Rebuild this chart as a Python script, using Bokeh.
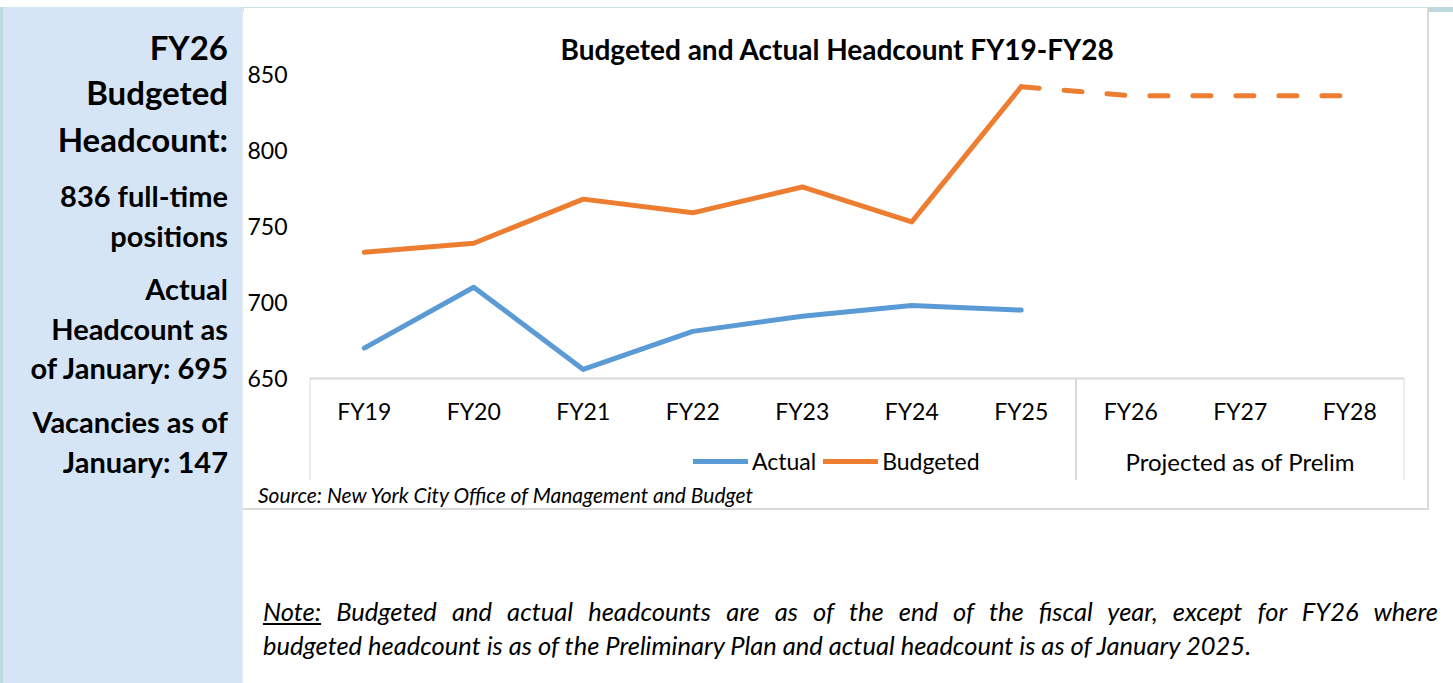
from bokeh.plotting import figure
from bokeh.models import FactorRange, Range1d, FixedTicker, Legend, LegendItem, Div
from bokeh.layouts import row, column
from bokeh.core.properties import value
from bokeh.embed import file_html
from bokeh.resources import INLINE

# ---------------- data ----------------
years = ["FY19", "FY20", "FY21", "FY22", "FY23", "FY24", "FY25", "FY26", "FY27", "FY28"]
actual = [670, 710, 656, 681, 691, 698, 695]                       # FY19-FY25
budgeted = [733, 739, 768, 759, 776, 753, 842, 836, 836, 836]      # FY19-FY28
n_hist = 7                                                         # FY19..FY25 are history
y_ticks = [650, 700, 750, 800, 850]
group_labels = ["", "Projected as of Prelim"]
legend_labels = ["Actual", "Budgeted"]
title_text = "Budgeted and Actual Headcount FY19-FY28"
source_text = "Source: New York City Office of Management and Budget"
panel_lines = [
    ("FY26", 60, 33), ("Budgeted", 105, 33), ("Headcount:", 152, 33),
    ("836 full-time", 207, 29), ("positions", 247, 29),
    ("Actual", 300, 29), ("Headcount as", 340, 29), ("of January: 695", 379, 29),
    ("Vacancies as of", 433, 29), ("January: 147", 473, 29),
]
note_line1 = "<u>Note:</u> Budgeted and actual headcounts are as of the end of the fiscal year, except for FY26 where"
note_line2 = "budgeted headcount is as of the Preliminary Plan and actual headcount is as of January 2025."

# ---------------- style / geometry ----------------
FONT = "Lato"
BLUE = "#5B9BD5"
ORANGE = "#ED7D31"
GREY = "#D9D9D9"
PANEL = "#D6E5F5"
TEAL = "#BDD9DE"

PAGE_W, PAGE_H = 1453, 683
STRIP_H = 7
PANEL_W = 243
FIG_W = 1184
PLOT_PX = 304       # 650 -> 850
BOX_PX = 102        # depth of category box under the axis
BORDER_LEFT = 66
BORDER_RIGHT = 23
BORDER_TOP = 67
BORDER_BOTTOM = 2
FIG_H = BORDER_TOP + PLOT_PX + BOX_PX + BORDER_BOTTOM
SRC_H = 28
NOTE_W = PAGE_W - PANEL_W
NOTE_H = PAGE_H - STRIP_H - FIG_H - SRC_H
TITLE_W_EST = 550   # rendered width of the title text

px_per_unit = PLOT_PX / (y_ticks[-1] - y_ticks[0])
y_bottom = y_ticks[0] - BOX_PX / px_per_unit
fy_label_y = y_ticks[0] - 32 / px_per_unit
group_label_y = y_ticks[0] - 83 / px_per_unit


def line_top(baseline, size, lh, origin):
    return baseline - origin - ((lh - 1.2 * size) / 2 + 0.987 * size)


# ---------------- top strip ----------------
strip = Div(text=f'<div style="width:{PAGE_W}px;height:{STRIP_H}px;box-sizing:border-box;'
                 f'border-top:2px solid white;background:{TEAL};"></div>',
            width=PAGE_W, height=STRIP_H, margin=0)

# ---------------- left panel ----------------
panel_h = PAGE_H - STRIP_H
parts = []
for txt, base, size in panel_lines:
    lh = round(size * 1.2)
    top = line_top(base, size, lh, STRIP_H)
    parts.append(
        f'<div style="position:absolute;right:14px;top:{top:.1f}px;font-size:{size}px;'
        f'line-height:{lh}px;white-space:nowrap;">{txt}</div>'
    )
panel_html = (
    f'<div style="position:relative;width:{PANEL_W}px;height:{panel_h}px;box-sizing:border-box;'
    f'border-left:3px solid {TEAL};border-right:1px solid #E4ECF2;background:{PANEL};'
    f'font-family:Lato;font-weight:bold;color:#000;">' + "".join(parts) + "</div>"
)
panel = Div(text=panel_html, width=PANEL_W, height=panel_h, margin=0)

# ---------------- chart ----------------
p = figure(
    width=FIG_W, height=FIG_H,
    x_range=FactorRange(factors=years),
    y_range=Range1d(y_bottom, y_ticks[-1]),
    x_axis_location=None,
    output_backend="svg", toolbar_location=None,
    min_border_left=BORDER_LEFT, min_border_right=BORDER_RIGHT,
    min_border_top=BORDER_TOP, min_border_bottom=BORDER_BOTTOM,
)
p.outline_line_color = None
p.xgrid.grid_line_color = None
p.ygrid.grid_line_color = None
p.background_fill_color = "white"
p.border_fill_color = "white"

p.title.text = title_text
p.title.align = "left"
p.title.offset = FIG_W / 2 - BORDER_LEFT - TITLE_W_EST / 2
p.title.text_font = FONT
p.title.text_font_size = "28px"
p.title.text_font_style = "bold"
p.title.text_color = "#000000"
p.title.standoff = 17

ax = p.yaxis[0]
ax.ticker = FixedTicker(ticks=y_ticks)
ax.axis_line_color = None
ax.major_tick_line_color = None
ax.minor_tick_line_color = None
ax.major_tick_in = 0
ax.major_tick_out = 0
ax.major_label_standoff = 22
ax.major_label_text_font = FONT
ax.major_label_text_font_size = "23px"
ax.major_label_text_color = "#000000"

# category box (axis line + separators)
left_edge = (years[0], -0.5)
split_edge = (years[n_hist - 1], 0.5)
right_edge = (years[-1], 0.5)
p.segment(x0=[left_edge], y0=[y_ticks[0]], x1=[right_edge], y1=[y_ticks[0]],
          line_color=GREY, line_width=2)
p.segment(x0=[left_edge, split_edge, right_edge], y0=[y_ticks[0]] * 3,
          x1=[left_edge, split_edge, right_edge], y1=[y_bottom] * 3,
          line_color=GREY, line_width=2)

# series
r_act = p.line(years[:n_hist], actual, line_color=BLUE, line_width=5,
               line_cap="round", line_join="round")
r_bud = p.line(years[:n_hist], budgeted[:n_hist], line_color=ORANGE, line_width=5,
               line_cap="round", line_join="round")
p.line(years[n_hist - 1:], budgeted[n_hist - 1:], line_color=ORANGE, line_width=5,
       line_dash="18 25", line_cap="round", line_join="round")

# category labels
p.text(x=years, y=[fy_label_y] * len(years), text=years,
       text_font=value(FONT), text_font_size=value("23px"), text_color="#000000",
       text_align="center", text_baseline="alphabetic")
proj = years[n_hist:]
p.text(x=[proj[len(proj) // 2]], y=[group_label_y], text=[group_labels[1]],
       text_font=value(FONT), text_font_size=value("24px"), text_color="#000000",
       text_align="center", text_baseline="alphabetic")

legend = Legend(
    items=[LegendItem(label=legend_labels[0], renderers=[r_act]),
           LegendItem(label=legend_labels[1], renderers=[r_bud])],
    location=(384, 5), orientation="horizontal",
    glyph_width=55, glyph_height=20, label_standoff=4, spacing=7,
    padding=0, margin=0, background_fill_alpha=0, border_line_color=None,
    label_text_font=FONT, label_text_font_size="23px", label_text_color="#000000",
)
p.add_layout(legend)

# ---------------- source ----------------
s_size = 21
s_lh = 22
src_top = STRIP_H + FIG_H
src_html = (
    f'<div style="width:{FIG_W}px;height:{SRC_H}px;box-sizing:border-box;border-bottom:2px solid {GREY};'
    f'padding-left:15px;padding-top:{line_top(503, s_size, s_lh, src_top):.1f}px;'
    f'font-family:Lato;font-style:italic;font-size:{s_size}px;line-height:{s_lh}px;color:#000;'
    f'white-space:nowrap;overflow:visible;">{source_text}</div>'
)
src_div = Div(text=src_html, width=FIG_W, height=SRC_H, margin=0)

box_h = FIG_H + SRC_H
right_border = Div(text=f'<div style="width:2px;height:{box_h}px;background:{GREY};"></div>',
                   width=2, height=box_h, margin=0)

# ---------------- note ----------------
n_size = 25.5
n_lh = 34
note_origin = src_top + SRC_H
note_html = (
    f'<div style="position:relative;width:{NOTE_W}px;height:{NOTE_H}px;font-family:Lato;'
    f'font-style:italic;font-size:{n_size}px;line-height:{n_lh}px;color:#000;">'
    f'<div style="position:absolute;left:20px;top:{line_top(621, n_size, n_lh, note_origin):.1f}px;width:1175px;'
    f'text-align:justify;text-align-last:justify;">{note_line1}</div>'
    f'<div style="position:absolute;left:20px;top:{line_top(655, n_size, n_lh, note_origin):.1f}px;'
    f'white-space:nowrap;">{note_line2}</div>'
    f'</div>'
)
note_div = Div(text=note_html, width=NOTE_W, height=NOTE_H, margin=0)

layout = column(
    strip,
    row(panel, column(row(column(p, src_div), right_border), note_div)),
)

open("out.html", "w").write(file_html(layout, INLINE))
